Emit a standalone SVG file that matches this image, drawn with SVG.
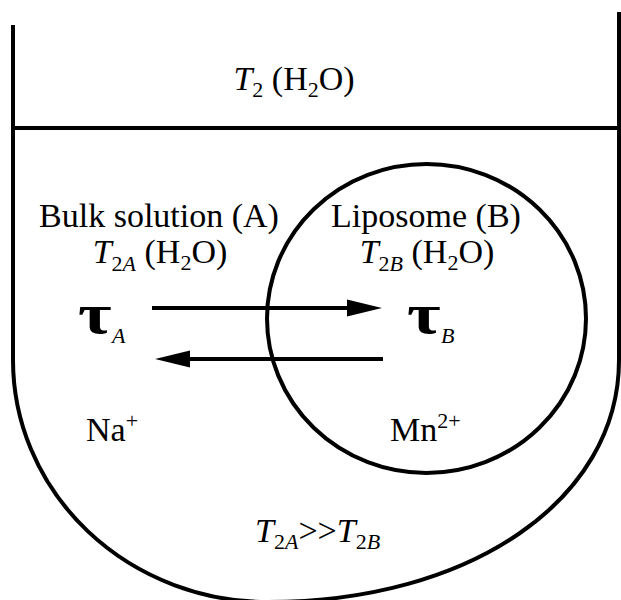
<svg xmlns="http://www.w3.org/2000/svg" width="621" height="600" viewBox="0 0 621 600">
<style>
.ln{fill:none;stroke:#000;stroke-width:4}
.t{font-family:"Liberation Serif","Times New Roman",serif;font-size:34px;fill:#000}
.i{font-style:italic}
.sub{font-size:22px}
.tau{font-family:"Liberation Serif","Times New Roman",serif;font-size:56px;font-weight:bold;fill:#000}
</style>
<rect width="621" height="600" fill="#fff"/>
<g id="container">
<path class="ln" d="M13,25 V360 A255,242 0 0 0 268,602 C470,602 619,500 619,360 V12"/>
<line class="ln" x1="13" y1="128" x2="619" y2="128"/>
</g>
<g id="liposome">
<ellipse class="ln" cx="426.5" cy="318.5" rx="159.5" ry="154.5"/>
</g>
<g id="labels">
<text class="t" x="294" y="90" text-anchor="middle"><tspan class="i">T</tspan><tspan class="sub" dy="7">2</tspan><tspan dy="-7"> (H</tspan><tspan class="sub" dy="7">2</tspan><tspan dy="-7">O)</tspan></text>
<text class="t" x="159" y="227" text-anchor="middle">Bulk solution (A)</text>
<text class="t" x="160" y="263" text-anchor="middle"><tspan class="i">T</tspan><tspan class="sub" dy="8">2<tspan class="i">A</tspan></tspan><tspan dy="-8"> (H</tspan><tspan class="sub" dy="7">2</tspan><tspan dy="-7">O)</tspan></text>
<text class="t" x="426" y="227" text-anchor="middle">Liposome (B)</text>
<text class="t" x="427" y="263" text-anchor="middle"><tspan class="i">T</tspan><tspan class="sub" dy="8">2<tspan class="i">B</tspan></tspan><tspan dy="-8"> (H</tspan><tspan class="sub" dy="7">2</tspan><tspan dy="-7">O)</tspan></text>
<g id="tauA">
<text class="tau" transform="translate(78,333) scale(1.3,1)">τ</text>
<text class="t i sub" x="112" y="343">A</text>
</g>
<g id="tauB">
<text class="tau" transform="translate(407,333) scale(1.3,1)">τ</text>
<text class="t i sub" x="441" y="343">B</text>
</g>
<text class="t" x="86" y="441">Na<tspan class="sub" dy="-13">+</tspan></text>
<text class="t" x="390" y="441">Mn<tspan class="sub" dy="-13">2+</tspan></text>
<text class="t" x="255" y="542"><tspan class="i">T</tspan><tspan class="sub" dy="7">2<tspan class="i">A</tspan></tspan><tspan dy="-7">&gt;&gt;</tspan><tspan class="i">T</tspan><tspan class="sub" dy="7">2<tspan class="i">B</tspan></tspan></text>
</g>
<g id="connectors">
<line class="ln" x1="152" y1="308" x2="350" y2="308"/>
<polygon points="382,308 347,299.5 347,316.5" fill="#000"/>
<line class="ln" x1="187" y1="359" x2="383" y2="359"/>
<polygon points="155,359 190,350.5 190,367.5" fill="#000"/>
</g>
</svg>
